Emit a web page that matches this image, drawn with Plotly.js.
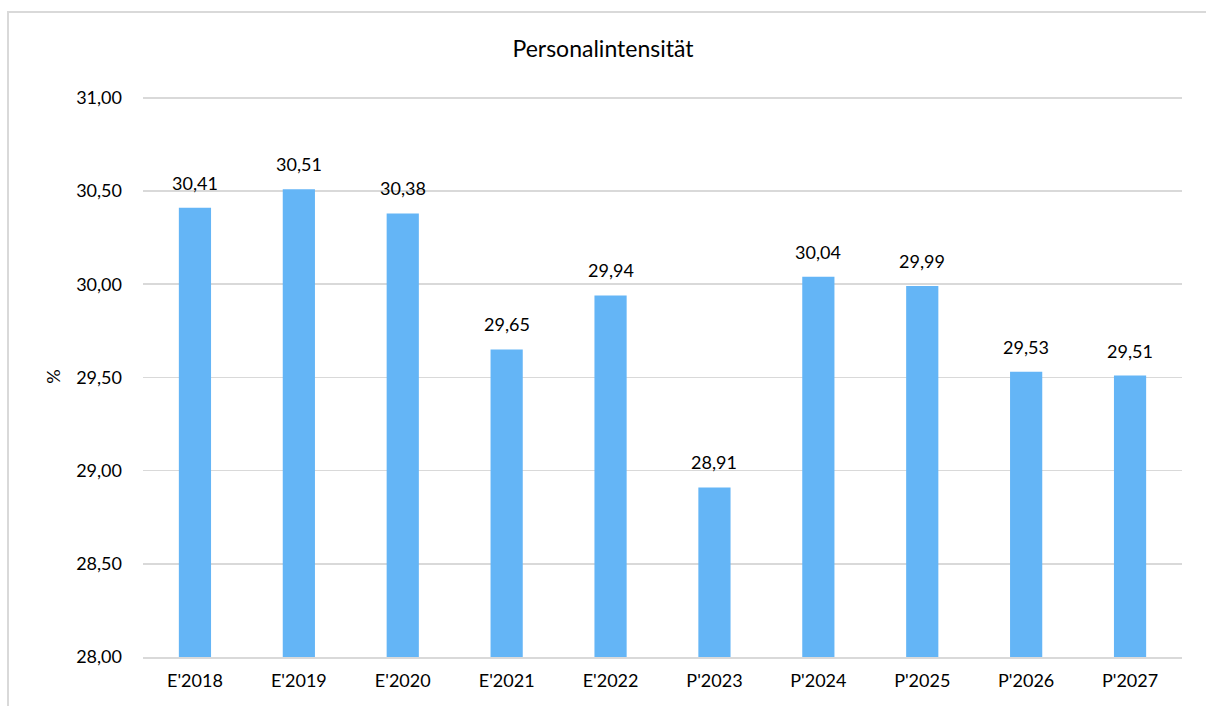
<!DOCTYPE html>
<html><head><meta charset="utf-8">
<script src="https://cdn.plot.ly/plotly-3.0.1.min.js"></script>
<style>
html,body{margin:0;padding:0;background:#fff;}
#wrap{position:relative;width:1206px;height:706px;overflow:hidden;}
#chart{position:absolute;left:0;top:0;width:1206px;height:706px;}
#frame{position:absolute;left:7px;top:11px;width:1220px;height:720px;border:2px solid #d9d9d9;pointer-events:none;}
</style></head>
<body><div id="wrap"><div id="chart"></div><div id="frame"></div></div>
<script>
const categories = ["E'2018","E'2019","E'2020","E'2021","E'2022","P'2023","P'2024","P'2025","P'2026","P'2027"];
const values = [30.41,30.51,30.38,29.65,29.94,28.91,30.04,29.99,29.53,29.51];
const labels = values.map(v => v.toFixed(2).replace('.', ','));
const tickValues = [28,28.5,29,29.5,30,30.5,31];
const fontFam = 'Lato, "Open Sans", sans-serif';
const annotations = categories.map((c, i) => ({
  x: c, y: values[i], xref:'x', yref:'y', text: labels[i], showarrow:false,
  yanchor:'bottom', yshift:12, font:{size:18,color:'#000',family:fontFam}
}));
Plotly.newPlot('chart', [{
  type:'bar', x:categories, y:values,
  marker:{color:'#64b5f6'}, width:0.31, hoverinfo:'x+y'
}], {
  width:1206, height:706, paper_bgcolor:'rgba(0,0,0,0)', plot_bgcolor:'#fff',
  margin:{l:143,r:24,t:96,b:49},
  separators:',.',
  title:{text:'Personalintensität', font:{size:23,color:'#000',family:fontFam}, x:0.5, xanchor:'center', y:0.931, yanchor:'middle'},
  font:{family:fontFam,color:'#000',size:18},
  annotations: annotations,
  xaxis:{showgrid:false, showline:true, linecolor:'#d9d9d9', linewidth:2, ticks:'', tickfont:{size:18}, ticklabelstandoff:6},
  yaxis:{range:[28,31.01], tickvals:tickValues, tickformat:'.2f', showgrid:true, gridcolor:'#d9d9d9', gridwidth:1.5, zeroline:false, showline:false, ticks:'', tickfont:{size:18}, ticklabelstandoff:20,
    title:{text:'%', font:{size:18}, standoff:10}}
}, {staticPlot:true});
</script></body></html>
